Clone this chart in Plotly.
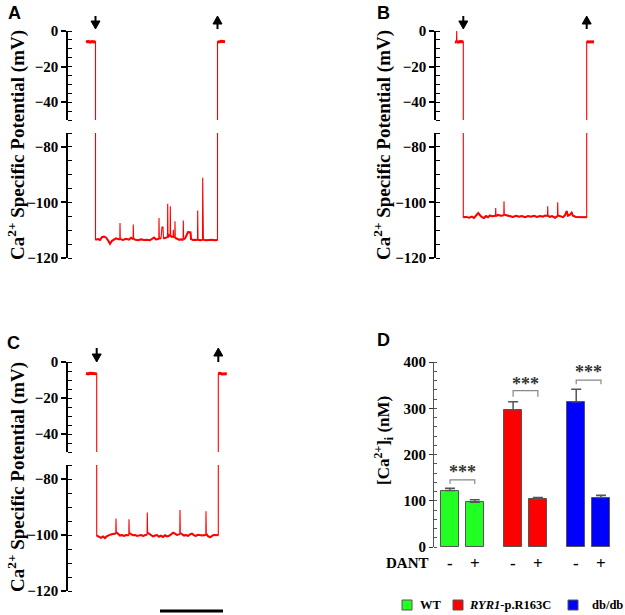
import plotly.graph_objects as go

W, H = 625, 615


def px(x):
    return x / W


def py(y):
    return 1 - y / H


RED = "#ff0000"
SERIF = '"Liberation Serif", "Times New Roman", serif'
SANS = '"Liberation Sans", Arial, sans-serif'

# ---------------- Panel A data (time in s, potential in mV) ----------------
A_pre_t = [0, 2, 4, 6, 8, 9.5]
A_pre_v = [-6.2, -5.8, -6.3, -5.9, -6.1, -6.0]
A_base_t = [9.5, 12, 14, 16, 18, 20, 22, 24, 26, 28, 30, 32, 33.8, 34, 34.3, 37, 40, 43, 45,
            47.1, 47.3, 47.6, 49, 52, 55, 58, 61, 64, 66, 68, 70, 72.8, 73, 73.3, 75, 76, 77,
            77.5, 79, 81.5, 81.7, 82, 83, 84.1, 84.3, 84.6, 85.8, 87.1, 87.3, 87.6, 88.8, 89,
            89.3, 91, 93, 95, 97.1, 97.3, 97.6, 99, 102, 104.5, 105, 107, 109, 111.5, 111.7,
            112, 114, 116.5, 116.7, 116.9, 117.2, 117.4, 120, 123, 126, 129, 131.5]
A_base_v = [-113.4, -113.2, -113.5, -112.5, -112.3, -112.6, -113.6, -114.9, -113.8, -113.3,
            -112.9, -113.2, -113.3, -107.4, -113.2, -113.5, -113.1, -113.4, -112.7, -113.2,
            -107.9, -113.0, -113.4, -113.6, -113.3, -113.5, -113.4, -113.6, -113.2, -112.6,
            -113.3, -113.2, -105.6, -113.0, -112.9, -108.9, -108.9, -113.0, -112.8, -112.5,
            -100.5, -112.6, -111.8, -112.2, -101.4, -112.0, -112.4, -112.3, -109.8, -112.5,
            -112.6, -106.8, -112.8, -113.0, -113.4, -113.3, -113.5, -106.5, -113.2, -113.0,
            -110.7, -110.8, -113.2, -113.5, -113.4, -113.5, -102.9, -113.4, -113.6, -113.5,
            -91.1, -113.0, -93.9, -113.4, -113.6, -113.5, -113.4, -113.6, -113.5]
A_post_t = [131.5, 133, 135, 137, 139]
A_post_v = [-6.0, -6.2, -5.8, -6.1, -6.0]

# ---------------- Panel B data ----------------
B_pre_t = [0, 1.5, 1.7, 1.9, 3, 5, 7, 8.3]
B_pre_v = [-6.0, -6.2, 0.0, -6.0, -6.3, -5.9, -6.2, -6.1]
B_base_t = [8.3, 11, 14, 17, 19, 21, 23.3, 25, 27, 29, 31, 33, 35, 37, 40.5, 40.7, 41, 43, 46,
            48.8, 49, 49.3, 52, 55, 58, 61, 64, 67, 70, 73, 76, 79, 82, 85, 88, 90, 92.5, 92.7,
            93, 95, 97, 100, 102.5, 102.7, 103, 105, 108, 110, 111.7, 113, 115, 116.7, 118,
            121, 124, 127, 131.7]
B_base_v = [-105.3, -105.2, -105.5, -105.1, -105.6, -104.6, -103.8, -104.6, -105.3, -105.6,
            -104.9, -105.3, -104.7, -105.0, -104.8, -102.0, -104.9, -104.5, -104.8, -104.6,
            -99.6, -104.4, -104.7, -104.9, -105.2, -104.8, -105.1, -104.9, -105.3, -104.9,
            -105.1, -104.8, -105.2, -104.9, -105.1, -104.7, -104.9, -101.4, -104.8, -105.2,
            -104.9, -105.5, -104.9, -99.9, -104.7, -104.9, -105.3, -104.6, -103.1, -104.8,
            -104.4, -103.7, -104.8, -105.2, -105.3, -105.2, -105.3]
B_post_t = [131.7, 133.5, 135.5, 137.5, 139]
B_post_v = [-6.1, -6.0, -6.2, -5.9, -6.1]

# ---------------- Panel C data ----------------
C_pre_t = [0, 2, 4, 6, 8, 10.7]
C_pre_v = [-6.3, -6.6, -6.2, -6.5, -6.4, -6.5]
C_base_t = [10.7, 13, 15, 17, 19, 21, 23, 25, 27, 29.8, 30, 30.3, 32, 34, 36, 38, 40, 42.8, 43,
            43.3, 45, 47, 49, 51, 53, 55, 57, 59, 61.1, 61.3, 61.6, 63, 65, 67, 69, 71, 73, 75,
            77, 79, 81, 83, 85, 87, 89, 91, 93.8, 94, 94.3, 96, 98, 100, 102, 104, 106, 108,
            110, 112, 114, 116, 119.8, 120, 120.3, 122, 124, 126, 128, 130, 132.3]
C_base_v = [-100.2, -100.6, -101.0, -100.5, -101.1, -100.4, -100.0, -99.8, -99.6, -99.5, -94.1,
            -99.0, -99.5, -100.2, -100.0, -100.3, -100.0, -100.1, -94.4, -99.3, -99.6, -100.1,
            -100.0, -100.3, -100.2, -100.0, -100.3, -100.1, -99.8, -92.0, -99.2, -99.6, -100.1,
            -100.5, -100.2, -100.0, -100.6, -100.2, -100.7, -100.1, -100.5, -100.3, -99.8,
            -99.2, -99.5, -100.0, -99.7, -91.1, -99.3, -99.7, -100.2, -100.0, -100.3, -99.8,
            -99.5, -100.1, -100.3, -99.9, -100.0, -100.2, -100.0, -91.5, -99.6, -100.4, -100.8,
            -100.3, -99.9, -100.1, -100.0]
C_post_t = [132.3, 134, 136, 138, 140.7]
C_post_v = [-6.5, -6.3, -6.6, -6.4, -6.5]

SCALE_BAR = [74, 137]  # time span of the scale bar (s)

# ---------------- Panel D data ----------------
groups = ["WT", "RYR1-p.R163C", "db/db"]
group_labels = ["<b>WT</b>", "<b><i>RYR1</i>-p.R163C</b>", "<b>db/db</b>"]
group_colors = ["#22ff22", "#ff0000", "#0000ff"]
dant_labels = ["-", "+"]
ca_mean = [[122, 97], [297, 103], [314, 107]]
ca_sem = [[5, 5], [17, 4], [27, 5]]
bracket_top = [145, 338, 361]
bracket_foot = [136, 325, 352]
star_y = [162, 353, 378]

fig = go.Figure()


def plateau_only(vals, thr=2.5):
    """Keep only near-plateau samples for the thick overlay (spikes drawn thin)."""
    s = sorted(vals)
    med = s[len(s) // 2]
    return [v if abs(v - med) < thr else None for v in vals]


# ---------------- trace panels ----------------
trace_panels = [
    dict(letter="A", pre=(A_pre_t, A_pre_v), base=(A_base_t, A_base_v), post=(A_post_t, A_post_v),
         xa="x", ya=("y", "y2")),
    dict(letter="B", pre=(B_pre_t, B_pre_v), base=(B_base_t, B_base_v), post=(B_post_t, B_post_v),
         xa="x2", ya=("y3", "y4")),
    dict(letter="C", pre=(C_pre_t, C_pre_v), base=(C_base_t, C_base_v), post=(C_post_t, C_post_v),
         xa="x3", ya=("y5", "y6")),
]

for p in trace_panels:
    full_t = p["pre"][0] + p["base"][0] + p["post"][0]
    full_v = p["pre"][1] + p["base"][1] + p["post"][1]
    for ya in p["ya"]:
        fig.add_trace(go.Scatter(x=full_t, y=full_v, mode="lines", xaxis=p["xa"], yaxis=ya,
                                 line=dict(color=RED, width=1.1), showlegend=False,
                                 hoverinfo="skip"))
        for seg, w in ((p["pre"], 3), (p["base"], 2), (p["post"], 3)):
            fig.add_trace(go.Scatter(x=seg[0], y=plateau_only(seg[1]), mode="lines",
                                     xaxis=p["xa"], yaxis=ya, connectgaps=False,
                                     line=dict(color=RED, width=w), showlegend=False,
                                     hoverinfo="skip"))

# ---------------- bar panel ----------------
for gi, g in enumerate(groups):
    xs = [gi * 2.55 + d for d in range(len(dant_labels))]
    fig.add_trace(go.Bar(
        x=xs, y=ca_mean[gi], width=0.72, xaxis="x4", yaxis="y7", name=g, showlegend=False,
        marker=dict(color=group_colors[gi], line=dict(color="#555555", width=1)),
        error_y=dict(type="data", array=ca_sem[gi], arrayminus=[0, 0], symmetric=False,
                     color="#555555", thickness=1.5, width=5),
    ))

tickfont = dict(family=SERIF, size=15, color="black", weight="bold")


def trace_yaxis(dom_top, dom_bot, rng, xpos):
    return dict(domain=[py(dom_bot), py(dom_top)], range=rng, anchor="free", position=px(xpos),
                tick0=0, dtick=20, ticks="outside", ticklen=5, tickwidth=1.5, tickcolor="black",
                showline=True, linewidth=1.5, linecolor="black", showgrid=False, zeroline=False,
                tickfont=tickfont, automargin=False,
                minor=dict(tick0=0, dtick=5, ticks="inside", ticklen=4, tickwidth=1.2,
                           tickcolor="black", showgrid=False))


def trace_xaxis(x0, x1, rng):
    return dict(domain=[px(x0), px(x1)], range=rng, visible=False, showgrid=False,
                zeroline=False, automargin=False)


# x-axis scale: 1 time unit == 1 px in the trace panels
layout = dict(
    width=W, height=H, margin=dict(l=0, r=0, t=0, b=0, autoexpand=False),
    paper_bgcolor="white", plot_bgcolor="white", showlegend=False, bargap=0,
    xaxis=trace_xaxis(80, 232, [-6, 146]),
    yaxis=trace_yaxis(31, 120, [-50, 0], 67),
    yaxis2=trace_yaxis(133, 258, [-120, -75], 67),
    xaxis2=trace_xaxis(449, 601, [-6, 146]),
    yaxis3=trace_yaxis(31, 120, [-50, 0], 435),
    yaxis4=trace_yaxis(133, 258, [-120, -75], 435),
    xaxis3=trace_xaxis(80, 232, [-6, 146]),
    yaxis5=trace_yaxis(362, 452, [-50, 0], 67),
    yaxis6=trace_yaxis(465, 591, [-120, -75], 67),
    xaxis4=dict(domain=[px(434), px(615)], range=[-0.6465, 6.667], visible=False,
                automargin=False),
    yaxis7=dict(domain=[py(547), py(362)], range=[0, 400], anchor="x4", dtick=100,
                ticks="outside", ticklen=4, tickwidth=1.2, tickcolor="#333333",
                showline=True, linewidth=1.2, linecolor="#555555", showgrid=False,
                zeroline=False, tickfont=tickfont, automargin=False,
                minor=dict(dtick=20, ticks="inside", ticklen=3, tickwidth=1,
                           tickcolor="#555555", showgrid=False)),
)
fig.update_layout(**layout)

annotations = []
shapes = []

# panel letters
for letter, (lx, ly) in zip("ABCD", [(14, 13), (383, 13), (13, 343), (383, 340)]):
    annotations.append(dict(text=f"<b>{letter}</b>", x=px(lx), y=py(ly), xref="paper",
                            yref="paper", showarrow=False, xanchor="center", yanchor="middle",
                            font=dict(family=SANS, size=18, color="black")))

# y titles
ytitle = "<b>Ca<sup>2+</sup> Specific Potential (mV)</b>"
for tx, ty in [(16, 145), (382, 145), (16, 477)]:
    annotations.append(dict(text=ytitle, x=px(tx), y=py(ty), xref="paper", yref="paper",
                            showarrow=False, textangle=-90, xanchor="center", yanchor="middle",
                            font=dict(family=SERIF, size=19, color="black")))
annotations.append(dict(text="<b>[Ca<sup>2+</sup>]<sub>i</sub> (nM)</b>", x=px(383), y=py(441),
                        xref="paper", yref="paper", showarrow=False, textangle=-90,
                        xanchor="center", yanchor="middle",
                        font=dict(family=SERIF, size=17, color="black")))

# arrows at drug application (down) / washout (up)
arrow_rows = [("x", 16, 29), ("x2", 16, 29), ("x3", 348, 362)]
for p, (xa, ytop, ybot) in zip(trace_panels, arrow_rows):
    t_down = p["base"][0][0]
    t_up = p["base"][0][-1]
    shapes.append(dict(type="line", xref=xa, yref="paper", x0=t_down, x1=t_down,
                       y0=py(ytop), y1=py(ybot - 6), line=dict(color="black", width=2)))
    shapes.append(dict(type="path", xref=xa, yref="paper", fillcolor="black",
                       line=dict(color="black", width=1),
                       path=f"M {t_down - 4.5},{py(ybot - 8)} L {t_down + 4.5},{py(ybot - 8)} "
                            f"L {t_down},{py(ybot)} Z"))
    shapes.append(dict(type="line", xref=xa, yref="paper", x0=t_up, x1=t_up,
                       y0=py(ytop + 6), y1=py(ybot), line=dict(color="black", width=2)))
    shapes.append(dict(type="path", xref=xa, yref="paper", fillcolor="black",
                       line=dict(color="black", width=1),
                       path=f"M {t_up - 4.5},{py(ytop + 8)} L {t_up + 4.5},{py(ytop + 8)} "
                            f"L {t_up},{py(ytop)} Z"))

# scale bar
shapes.append(dict(type="line", xref="x3", yref="paper", x0=SCALE_BAR[0], x1=SCALE_BAR[1],
                   y0=py(611), y1=py(611), line=dict(color="black", width=3)))

# significance brackets, DANT row
for gi in range(len(groups)):
    x0 = gi * 2.55
    x1 = x0 + 1
    shapes.append(dict(type="path", xref="x4", yref="y7",
                       path=f"M {x0},{bracket_foot[gi]} L {x0},{bracket_top[gi]} "
                            f"L {x1},{bracket_top[gi]} L {x1},{bracket_foot[gi]}",
                       line=dict(color="#888888", width=1.2)))
    annotations.append(dict(text="<b>***</b>", x=x0 + 0.5, y=star_y[gi], xref="x4", yref="y7",
                            showarrow=False, xanchor="center", yanchor="middle",
                            font=dict(family=SERIF, size=18, color="#333333")))
    for d, lab in enumerate(dant_labels):
        annotations.append(dict(text=f"<b>{lab}</b>", x=x0 + d, y=py(563), xref="x4",
                                yref="paper", showarrow=False, xanchor="center",
                                yanchor="middle",
                                font=dict(family=SERIF, size=17, color="black")))
annotations.append(dict(text="<b>DANT</b>", x=px(407), y=py(563), xref="paper", yref="paper",
                        showarrow=False, xanchor="center", yanchor="middle",
                        font=dict(family=SERIF, size=15, color="black")))

# legend
leg_sq_x = [407, 458, 573]
leg_txt_x = [418, 467, 590]
for gi in range(len(groups)):
    cx = leg_sq_x[gi]
    shapes.append(dict(type="rect", xref="paper", yref="paper", x0=px(cx - 5), x1=px(cx + 5),
                       y0=py(610), y1=py(600), fillcolor=group_colors[gi],
                       line=dict(color="#555555", width=1)))
    annotations.append(dict(text=group_labels[gi], x=px(leg_txt_x[gi]), y=py(605),
                            xref="paper", yref="paper", showarrow=False, xanchor="left",
                            yanchor="middle", font=dict(family=SERIF, size=12.5, color="black")))

fig.update_layout(annotations=annotations, shapes=shapes)
# place the 625x615 figure flush with the page corner (no default body margin), no modebar
fig.write_html("out.html",
               config={"displayModeBar": False},
               post_script="document.body.style.margin='0';"
                           "document.body.style.overflow='hidden';")
